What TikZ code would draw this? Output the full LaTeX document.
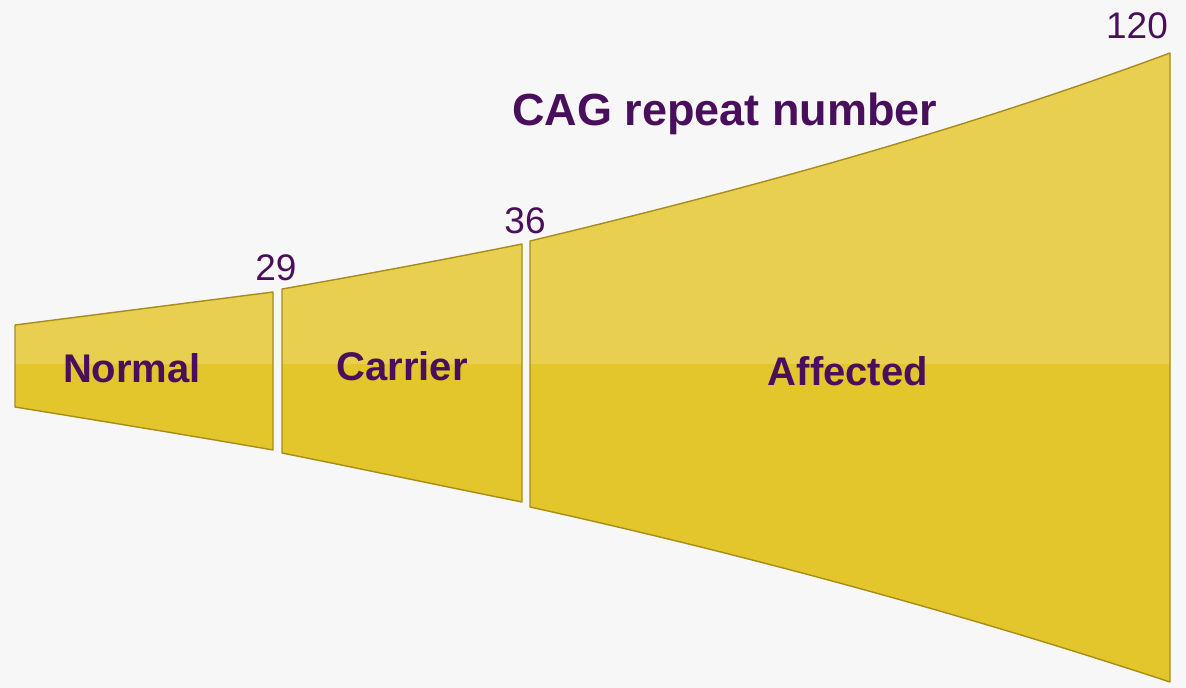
\documentclass[tikz,border=0pt]{standalone}
\usepackage{fontspec}
\setmainfont{Liberation Sans}
\definecolor{bg}{HTML}{F7F7F7}
\definecolor{gold}{HTML}{E3C52C}
\definecolor{goldlight}{HTML}{E8CF50}
\definecolor{goldedge}{HTML}{A88C1A}
\definecolor{txt}{HTML}{4A0F5C}
\tikzset{
  lbl/.style={text=txt, anchor=base, inner sep=0pt, font=\fontsize{40}{48}\selectfont\bfseries},
  num/.style={text=txt, anchor=base, inner sep=0pt, font=\fontsize{37}{44}\selectfont},
  edge/.style={draw=goldedge, line width=1.4pt, line join=round},
}
\begin{document}
\begin{tikzpicture}[x=1pt,y=-1pt]
\fill[bg] (0,0) rectangle (1186,688);
\useasboundingbox (0,0) rectangle (1186,688);

\def\segnormal{(15,325) .. controls (101,314) and (187,303) .. (273,292) -- (273,450) .. controls (187,435) and (101,421) .. (15,407) -- cycle}
\def\segcarrier{(282,289) .. controls (362,275) and (442,260) .. (522,244) -- (522,502) .. controls (442,486) and (362,469) .. (282,453) -- cycle}
\def\segaffected{(530,241) .. controls (743,190) and (957,132) .. (1170,53) -- (1170,682) .. controls (957,612) and (743,554) .. (530,507) -- cycle}

\foreach \seg in {\segnormal,\segcarrier,\segaffected}{
  \fill[gold] \seg;
  \begin{scope}
    \clip \seg;
    \fill[goldlight] (0,0) rectangle (1186,364);
  \end{scope}
  \draw[edge] \seg;
}

\node[lbl] (normal) at (132,382) {Normal};
\node[lbl] (carrier) at (402,380) {Carrier};
\node[lbl] (affected) at (848,385) {Affected};
\node[lbl, font=\fontsize{45}{54}\selectfont\bfseries] (title) at (725,125) {CAG repeat number};
\node[num] (n29) at (276,280) {29};
\node[num] (n36) at (525,233) {36};
\node[num] (n120) at (1137,38) {120};
\end{tikzpicture}
\end{document}
